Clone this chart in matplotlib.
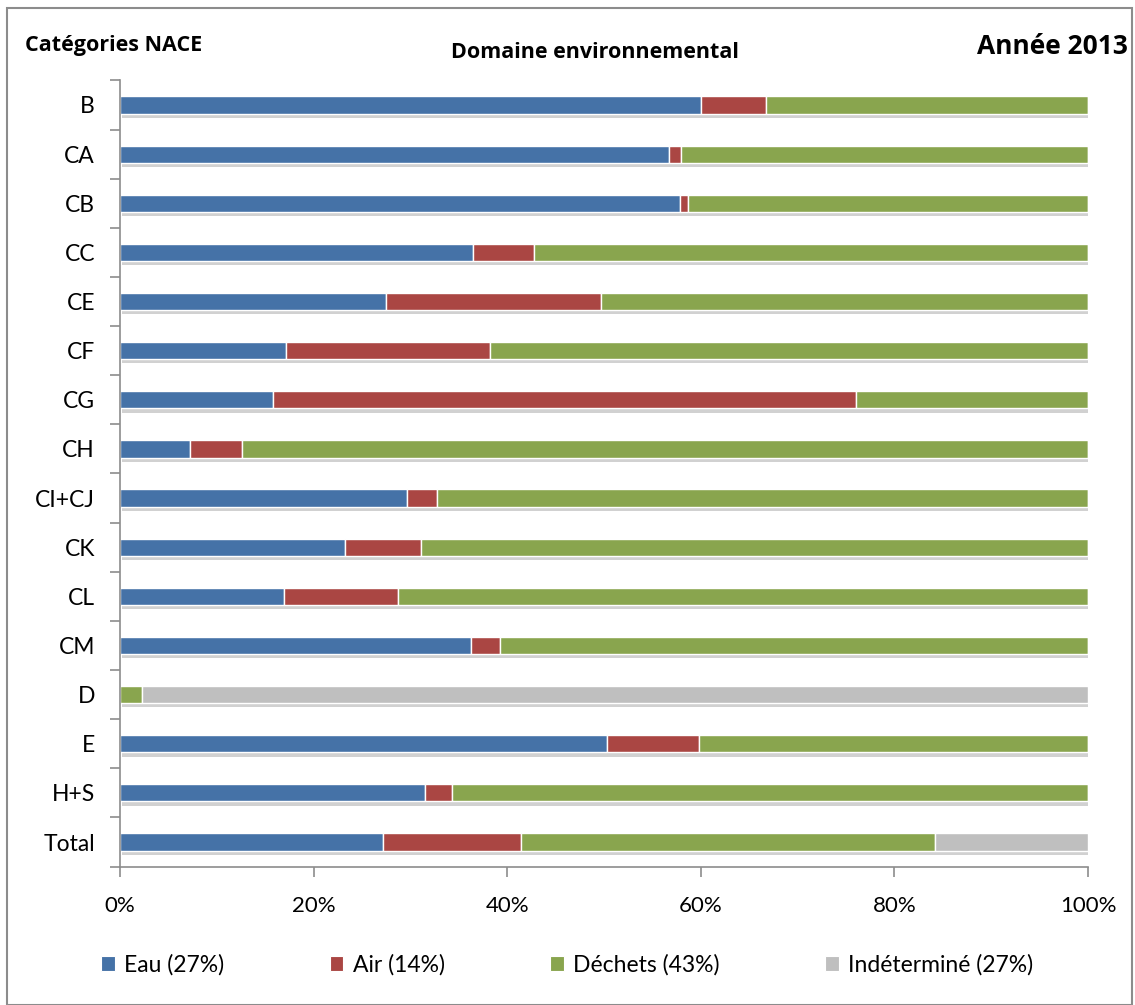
import matplotlib
matplotlib.use("Agg")
import matplotlib.pyplot as plt
import matplotlib.patheffects as pe
from matplotlib.patches import Rectangle, Patch
import numpy as np

plt.rcParams['font.family'] = ['Lato', 'DejaVu Sans']

categories = ["B", "CA", "CB", "CC", "CE", "CF", "CG", "CH", "CI+CJ", "CK", "CL", "CM", "D", "E", "H+S", "Total"]
eau = [60.0, 56.7, 57.9, 36.5, 27.5, 17.1, 15.8, 7.2, 29.6, 23.2, 16.9, 36.3, 0.0, 50.3, 31.5, 27.2]
air = [6.7, 1.3, 0.8, 6.3, 22.2, 21.1, 60.2, 5.4, 3.1, 7.9, 11.8, 3.0, 0.0, 9.5, 2.8, 14.2]
dechets = [33.3, 42.0, 41.3, 57.2, 50.3, 61.8, 24.0, 87.4, 67.3, 68.9, 71.3, 60.7, 2.3, 40.2, 65.7, 42.8]
indet = [0.0, 0.0, 0.0, 0.0, 0.0, 0.0, 0.0, 0.0, 0.0, 0.0, 0.0, 0.0, 97.7, 0.0, 0.0, 15.8]
series_names = ["Eau (27%)", "Air (14%)", "Déchets (43%)", "Indéterminé (27%)"]
colors = ["#4572A7", "#AA4643", "#89A54E", "#BFBFBF"]
xticks = [0, 20, 40, 60, 80, 100]

W, H = 1135, 1005
fig = plt.figure(figsize=(W / 100, H / 100), dpi=100)
fig.patches.append(Rectangle((7 / W, 0), (1132 - 7) / W, 1 - 8 / H, transform=fig.transFigure,
                             fill=False, edgecolor="#8c8c8c", linewidth=1.5))

ax = fig.add_axes([120 / W, 1 - 866.6 / H, (1088 - 120) / W, (866.6 - 80.4) / H])
y = np.arange(len(categories))
left = np.zeros(len(categories))
shadow = [pe.SimplePatchShadow(offset=(1.5, -3), shadow_rgbFace="#9a9a9a", alpha=0.45), pe.Normal()]
for vals, name, col in zip([eau, air, dechets, indet], series_names, colors):
    vals = np.array(vals)
    bars = ax.barh(y, vals, left=left, height=0.35, color=col, edgecolor="white", linewidth=1.0)
    for b, v in zip(bars, vals):
        if v > 0:
            b.set_path_effects(shadow)
    left = left + vals

ax.set_ylim(len(categories) - 0.5, -0.5)
ax.set_xlim(0, 100)
ax.set_yticks(y)
ax.set_yticklabels(categories, fontsize=16.5)
ax.set_yticks(np.arange(-0.5, len(categories), 1), minor=True)
ax.tick_params(axis='y', which='major', length=0, pad=18)
ax.tick_params(axis='y', which='minor', length=7, color="#8c8c8c", width=1.2)
ax.set_xticks(xticks)
ax.set_xticklabels([f"{t}%" for t in xticks], fontsize=16)
ax.tick_params(axis='x', length=7, color="#8c8c8c", width=1.2, pad=14)
for s in ["top", "right"]:
    ax.spines[s].set_visible(False)
for s in ["left", "bottom"]:
    ax.spines[s].set_color("#8c8c8c")
    ax.spines[s].set_linewidth(1.2)

bold = ['Open Sans', 'DejaVu Sans']
fig.text(25 / W, 1 - 45 / H, "Catégories NACE", fontsize=15.5, fontweight="bold", family=bold, va="center", ha="left")
fig.text(595 / W, 1 - 52 / H, "Domaine environnemental", fontsize=15.5, fontweight="bold", family=bold, va="center", ha="center")
fig.text(1128 / W, 1 - 47 / H, "Année 2013", fontsize=19, fontweight="bold", family=bold, va="center", ha="right")

handles = [Patch(facecolor=c, edgecolor="white", linewidth=0.8) for c in colors]
fig.legend(handles, series_names, loc="center", bbox_to_anchor=(567 / W, 1 - 965 / H), ncol=4, frameon=False,
           fontsize=16.5, handlelength=0.6, handleheight=0.6, handletextpad=0.4, columnspacing=4.6)

fig.savefig("out.png", dpi=100)
